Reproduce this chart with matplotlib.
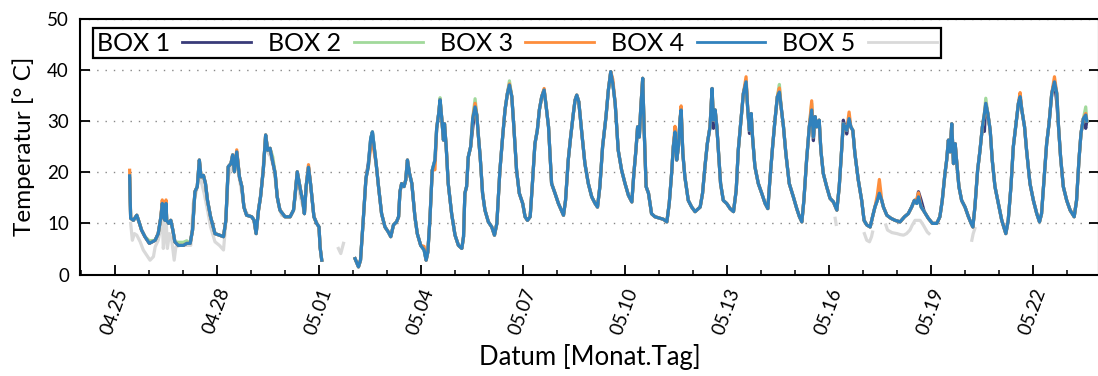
import numpy as np
import matplotlib
matplotlib.use("Agg")
import matplotlib.pyplot as plt
from matplotlib.ticker import FixedLocator, MultipleLocator

nan = float("nan")

# time axis: days since 04.25 00:00
t_days = [
    0.43, 0.46, 0.54, 0.64, 0.72, 0.78, 0.88, 1.01, 1.18, 1.27,
    1.35, 1.39, 1.42, 1.47, 1.50, 1.52, 1.58, 1.64, 1.70, 1.76,
    1.86, 2.01, 2.11, 2.21, 2.28, 2.35, 2.42, 2.48, 2.53, 2.60,
    2.66, 2.72, 2.81, 2.94, 3.07, 3.19, 3.26, 3.33, 3.41, 3.46,
    3.51, 3.58, 3.66, 3.73, 3.79, 3.87, 4.02, 4.09, 4.15, 4.22,
    4.28, 4.36, 4.43, 4.49, 4.56, 4.64, 4.71, 4.77, 4.85, 5.00,
    5.15, 5.25, 5.29, 5.36, 5.42, 5.47, 5.52, 5.57, 5.62, 5.69,
    5.75, 5.79, 5.85, 5.93, 6.00, 6.03, 6.08, 6.50, 7.06, 7.16,
    7.22, 7.30, 7.38, 7.45, 7.52, 7.57, 7.62, 7.68, 7.75, 7.84,
    7.94, 8.04, 8.11, 8.19, 8.28, 8.34, 8.38, 8.43, 8.50, 8.55,
    8.60, 8.66, 8.73, 8.82, 8.89, 8.99, 9.09, 9.15, 9.20, 9.26,
    9.33, 9.41, 9.46, 9.52, 9.56, 9.61, 9.66, 9.69, 9.74, 9.80,
    9.90, 10.00, 10.10, 10.20, 10.25, 10.29, 10.34, 10.39, 10.46, 10.52,
    10.59, 10.64, 10.69, 10.74, 10.81, 10.88, 10.98, 11.08, 11.16, 11.23,
    11.32, 11.40, 11.47, 11.54, 11.60, 11.67, 11.73, 11.81, 11.89, 11.99,
    12.06, 12.13, 12.21, 12.27, 12.35, 12.42, 12.48, 12.55, 12.62, 12.67,
    12.75, 12.84, 12.94, 13.04, 13.19, 13.25, 13.33, 13.40, 13.48, 13.53,
    13.58, 13.64, 13.73, 13.82, 13.92, 14.02, 14.12, 14.19, 14.26, 14.34,
    14.44, 14.51, 14.58, 14.64, 14.71, 14.80, 14.90, 15.00, 15.10, 15.20,
    15.26, 15.32, 15.37, 15.42, 15.46, 15.52, 15.56, 15.62, 15.69, 15.78,
    15.88, 16.03, 16.13, 16.23, 16.30, 16.37, 16.42, 16.47, 16.52, 16.57,
    16.62, 16.65, 16.70, 16.76, 16.86, 16.96, 17.06, 17.21, 17.28, 17.35,
    17.42, 17.50, 17.56, 17.60, 17.65, 17.70, 17.75, 17.81, 17.89, 17.99,
    18.09, 18.19, 18.27, 18.33, 18.40, 18.48, 18.56, 18.61, 18.66, 18.71,
    18.75, 18.82, 18.92, 19.02, 19.12, 19.20, 19.26, 19.34, 19.41, 19.48,
    19.54, 19.59, 19.66, 19.73, 19.83, 19.95, 20.05, 20.13, 20.20, 20.26,
    20.34, 20.42, 20.49, 20.54, 20.59, 20.64, 20.71, 20.76, 20.83, 20.93,
    21.03, 21.13, 21.23, 21.30, 21.37, 21.42, 21.47, 21.52, 21.59, 21.64,
    21.70, 21.76, 21.86, 21.96, 22.03, 22.11, 22.21, 22.28, 22.35, 22.42,
    22.48, 22.55, 22.60, 22.70, 22.82, 22.94, 23.09, 23.22, 23.33, 23.43,
    23.51, 23.58, 23.63, 23.71, 23.80, 23.92, 24.04, 24.17, 24.26, 24.33,
    24.41, 24.46, 24.51, 24.56, 24.61, 24.66, 24.71, 24.75, 24.82, 24.90,
    25.00, 25.10, 25.18, 25.23, 25.29, 25.37, 25.44, 25.51, 25.57, 25.61,
    25.67, 25.74, 25.80, 25.88, 25.98, 26.08, 26.20, 26.27, 26.35, 26.42,
    26.49, 26.57, 26.62, 26.67, 26.75, 26.81, 26.91, 27.01, 27.11, 27.19,
    27.25, 27.33, 27.40, 27.47, 27.55, 27.63, 27.70, 27.75, 27.81, 27.89,
    27.99, 28.09, 28.21, 28.28, 28.35, 28.41, 28.48, 28.55, 28.58,
]

# BOX 4 (blue) readings, degC
box4 = [
    19.3, 11.0, 10.6, 11.6, 10.0, 8.7, 7.4, 6.1, 6.7, 8.0,
    11.3, 13.9, 11.3, 10.6, 13.9, 10.6, 10.0, 10.6, 8.7, 6.4,
    5.7, 5.7, 6.1, 6.1, 8.7, 16.2, 17.2, 22.4, 19.1, 19.4,
    17.8, 14.5, 11.3, 8.0, 7.7, 7.4, 10.6, 21.1, 21.7, 23.4,
    20.1, 24.0, 19.1, 17.2, 13.2, 11.6, 11.3, 10.6, 8.0, 12.6,
    15.2, 20.4, 27.3, 24.3, 24.7, 22.0, 19.8, 15.2, 12.6, 11.3,
    11.3, 12.6, 15.2, 20.1, 17.8, 16.0, 14.5, 11.9, 17.2, 21.0,
    17.8, 15.2, 11.3, 10.0, 9.3, 5.4, 2.8, nan, 3.1, 1.5,
    2.8, 10.6, 18.8, 21.1, 26.6, 27.9, 25.0, 21.7, 17.2, 11.9,
    9.3, 8.3, 7.4, 9.7, 10.3, 11.3, 16.2, 17.8, 17.2, 18.5,
    22.4, 19.8, 17.8, 11.3, 8.0, 5.7, 4.8, 2.8, 4.4, 10.6,
    20.4, 22.4, 28.6, 31.5, 34.2, 30.5, 26.3, 29.5, 25.0, 17.8,
    11.9, 7.7, 5.7, 5.1, 7.4, 15.9, 17.2, 23.0, 25.0, 30.5,
    32.8, 31.2, 26.9, 23.0, 15.9, 12.6, 10.3, 9.3, 7.7, 10.0,
    20.4, 26.9, 32.2, 35.4, 37.1, 34.8, 28.9, 20.4, 15.9, 13.9,
    11.3, 10.6, 11.3, 17.2, 25.6, 28.2, 32.2, 34.8, 36.1, 33.5,
    28.9, 17.8, 15.9, 13.9, 11.6, 14.5, 22.4, 26.9, 31.5, 34.1,
    35.1, 33.8, 27.6, 21.7, 17.8, 15.2, 13.9, 13.2, 17.2, 25.0,
    30.9, 36.1, 39.7, 37.4, 33.5, 24.3, 20.4, 17.8, 15.5, 14.2,
    19.8, 24.3, 28.9, 26.9, 32.2, 38.4, 28.9, 17.2, 15.9, 11.9,
    11.3, 11.0, 10.8, 10.3, 13.9, 19.8, 25.0, 27.9, 22.4, 25.0,
    30.5, 32.2, 23.7, 19.1, 14.5, 13.2, 12.3, 13.2, 15.9, 21.1,
    25.6, 28.9, 36.4, 30.2, 32.2, 28.9, 23.7, 17.8, 14.5, 13.9,
    12.9, 12.3, 16.5, 24.3, 29.5, 35.4, 37.7, 32.2, 28.2, 31.5,
    26.9, 21.1, 17.8, 15.9, 13.9, 12.9, 18.5, 25.0, 30.2, 34.8,
    35.7, 32.8, 28.9, 23.7, 17.8, 15.2, 12.9, 11.3, 10.3, 14.5,
    22.4, 28.9, 32.2, 26.9, 30.9, 28.9, 30.2, 24.3, 19.8, 17.2,
    14.9, 14.2, 12.6, 17.2, 24.3, 29.5, 28.9, 28.2, 30.5, 28.9,
    28.2, 23.7, 18.5, 14.5, 10.6, 9.7, 9.3, 11.3, 13.2, 14.5,
    15.9, 14.5, 13.2, 11.6, 11.0, 10.6, 10.3, 11.3, 11.9, 13.2,
    14.5, 13.9, 15.2, 13.2, 12.3, 11.0, 10.0, 10.0, 11.3, 14.5,
    19.8, 22.4, 26.3, 24.0, 29.5, 21.7, 25.6, 22.4, 17.2, 14.5,
    13.2, 11.3, 10.0, 9.3, 13.2, 20.4, 24.3, 28.9, 31.5, 33.5,
    31.5, 28.2, 22.4, 17.2, 13.9, 10.6, 8.0, 10.6, 17.2, 25.0,
    28.9, 33.5, 34.8, 32.2, 28.9, 24.3, 17.8, 14.5, 11.9, 10.3,
    11.9, 19.1, 25.6, 29.5, 35.4, 37.7, 35.4, 28.9, 23.0, 17.2,
    14.5, 12.6, 11.3, 14.5, 22.4, 27.6, 30.5, 31.2, 30.0,
]

# readings where BOX 1-3 differ from BOX 4 (same time stamps)
box3_t = [0.43, 1.39, 1.50, 3.58, 5.69, 7.52, 7.57, 7.62, 9.09, 9.41,
          10.59, 11.60, 12.62, 14.64, 16.47, 16.65, 18.56, 19.54, 20.49, 21.59,
          22.42, 22.48, 23.58, 23.63, 25.61, 26.62, 27.63, 28.55]
box3_v = [20.4, 14.6, 14.6, 24.4, 21.5, 25.0, 26.0, 24.0, 5.5, 20.5,
          33.5, 37.3, 36.4, 38.2, 29.0, 33.0, 38.7, 36.5, 34.0, 31.8,
          15.5, 18.6, 14.8, 16.0, 33.5, 35.6, 38.7, 31.5]
box2_t = [1.01, 1.86, 2.01, 2.11, 4.64, 9.56, 10.59, 11.60, 19.54, 20.49, 25.61, 28.55]
box2_v = [6.6, 6.3, 6.3, 6.6, 23.0, 34.6, 34.4, 37.9, 37.2, 33.5, 34.5, 32.8]
box1_t = [0.43, 7.45, 10.52, 17.60, 18.66, 20.54, 21.42, 21.52, 23.63, 23.71, 25.57, 27.70, 28.55]
box1_v = [18.8, 21.8, 28.6, 28.6, 27.6, 26.2, 30.2, 27.5, 16.2, 14.5, 28.0, 33.5, 28.6]

# BOX 5 (grey): intermittent readings
box5_t = [0.46, 0.51, 0.57, 0.64, 0.74, 0.83, 0.93, 1.03, 1.13, 1.18,
          1.27, 1.35, 1.39, 1.42, 1.47, 1.50, 1.54, 1.60, 1.67, 1.74,
          1.79, 1.91, 2.11, 2.23, 2.30, 2.40, 2.48, 2.55, 2.62, 2.72,
          2.81, 2.94, 3.07, 3.19, 3.25, 3.33, 3.43, 3.53, 3.63, 3.73,
          3.82, 3.92, 4.07, 4.15, 4.22, 4.31, 4.38, 4.44, 4.51, 4.58,
          4.66, 4.74, 4.80, 4.90, 5.00, 5.15, 5.25, 5.30, 5.36, 5.44,
          5.52, 5.57, 5.62, 5.69, 5.75, 5.85, 6.00, 6.03,
          6.30, 6.57, 6.64, 6.72, 6.80, 21.18, 21.21, 21.50,
          22.04, 22.11, 22.19, 22.25, 22.28, 22.50,
          22.67, 22.72, 22.85, 23.00, 23.10, 23.19, 23.28, 23.38, 23.45, 23.53,
          23.68, 23.77, 23.89, 23.94, 24.50, 25.20, 25.24, 25.29]
box5_v = [10.0, 6.7, 8.0, 7.7, 6.4, 4.8, 3.8, 2.8, 3.5, 5.4,
          6.7, 9.3, 11.3, 5.1, 8.0, 11.3, 5.1, 8.0, 6.7, 2.8,
          5.4, 5.7, 5.7, 5.7, 13.9, 16.5, 21.1, 17.8, 15.9, 12.6,
          9.3, 6.4, 5.7, 4.8, 9.3, 19.1, 21.1, 22.4, 19.8, 15.9,
          12.6, 11.6, 11.0, 8.0, 12.6, 17.2, 23.0, 25.6, 23.7, 23.0,
          21.1, 17.2, 13.9, 11.6, 11.3, 11.3, 12.6, 15.2, 19.5, 15.5,
          13.5, 11.9, 16.5, 20.5, 17.8, 11.3, 9.3, 5.4,
          nan, 5.1, 4.1, 6.1, nan, 11.0, 9.8, nan,
          8.0, 6.7, 6.4, 7.4, 8.3, nan,
          9.7, 8.7, 8.2, 8.0, 7.8, 7.7, 8.0, 8.7, 9.7, 10.6,
          10.6, 9.7, 8.3, 8.0, nan, 6.7, 8.0, 9.0]

labels = ["BOX 1", "BOX 2", "BOX 3", "BOX 4", "BOX 5"]
colors = ["#393b79", "#a1d99b", "#fd8d3c", "#3182bd", "#d9d9d9"]
tick_pos = [0, 3, 6, 9, 12, 15, 18, 21, 24, 27]
tick_labels = ["04.25", "04.28", "05.01", "05.04", "05.07",
               "05.10", "05.13", "05.16", "05.19", "05.22"]

t = np.array(t_days)
index = {round(x, 2): i for i, x in enumerate(t_days)}


def with_changes(base, times, vals):
    out = np.array(base, dtype=float)
    for tt, vv in zip(times, vals):
        out[index[round(tt, 2)]] = vv
    return out


series = [with_changes(box4, box1_t, box1_v),
          with_changes(box4, box2_t, box2_v),
          with_changes(box4, box3_t, box3_v),
          np.array(box4, dtype=float)]

plt.rcParams["font.family"] = ["Lato", "DejaVu Sans"]

fig = plt.figure(figsize=(10.98, 3.76), dpi=100)
ax = fig.add_axes([80 / 1098, 1 - 274.5 / 376, 1019 / 1098, 255.5 / 376])

lw = 2.3
ax.plot(box5_t, box5_v, color=colors[4], lw=lw, zorder=1, label=labels[4])
for i in range(4):
    ax.plot(t, series[i], color=colors[i], lw=lw, zorder=2 + i, label=labels[i])

ax.set_xlim(-1.03, 28.94)
ax.set_ylim(0, 50)
ax.yaxis.set_major_locator(MultipleLocator(10))
ax.xaxis.set_major_locator(FixedLocator(tick_pos))
ax.xaxis.set_minor_locator(MultipleLocator(1))
ax.set_xticklabels(tick_labels, rotation=70, ha="right", va="top",
                   rotation_mode="anchor", fontsize=13.5)
ax.tick_params(axis="y", labelsize=13.5)
ax.tick_params(which="major", direction="in", length=7.5, width=1.3,
               right=True, pad=8)
ax.tick_params(which="minor", direction="in", length=3.8, width=1.1)
ax.tick_params(axis="y", which="minor", right=False, left=False)
for s in ax.spines.values():
    s.set_linewidth(1.5)

ax.yaxis.grid(True, linestyle=(0, (1, 5)), color="#888888", lw=1.0)
ax.set_axisbelow(True)

ax.set_ylabel("Temperatur [° C]", fontsize=17.5, labelpad=9)
ax.set_xlabel("Datum [Monat.Tag]", fontsize=18.5, labelpad=5)

handles, labs = ax.get_legend_handles_labels()
order = [1, 2, 3, 4, 0]
leg = ax.legend([handles[k] for k in order], [labs[k] for k in order],
                ncol=5, loc="upper left", bbox_to_anchor=(0.0128, 0.965),
                borderaxespad=0, markerfirst=False, fontsize=18,
                handlelength=2.75, handletextpad=0.5, columnspacing=0.68,
                borderpad=0.15, fancybox=False, framealpha=1,
                edgecolor="black")
leg.get_frame().set_linewidth(1.6)
for h in leg.get_lines():
    h.set_linewidth(2.0)

fig.savefig("out.png", dpi=100)
